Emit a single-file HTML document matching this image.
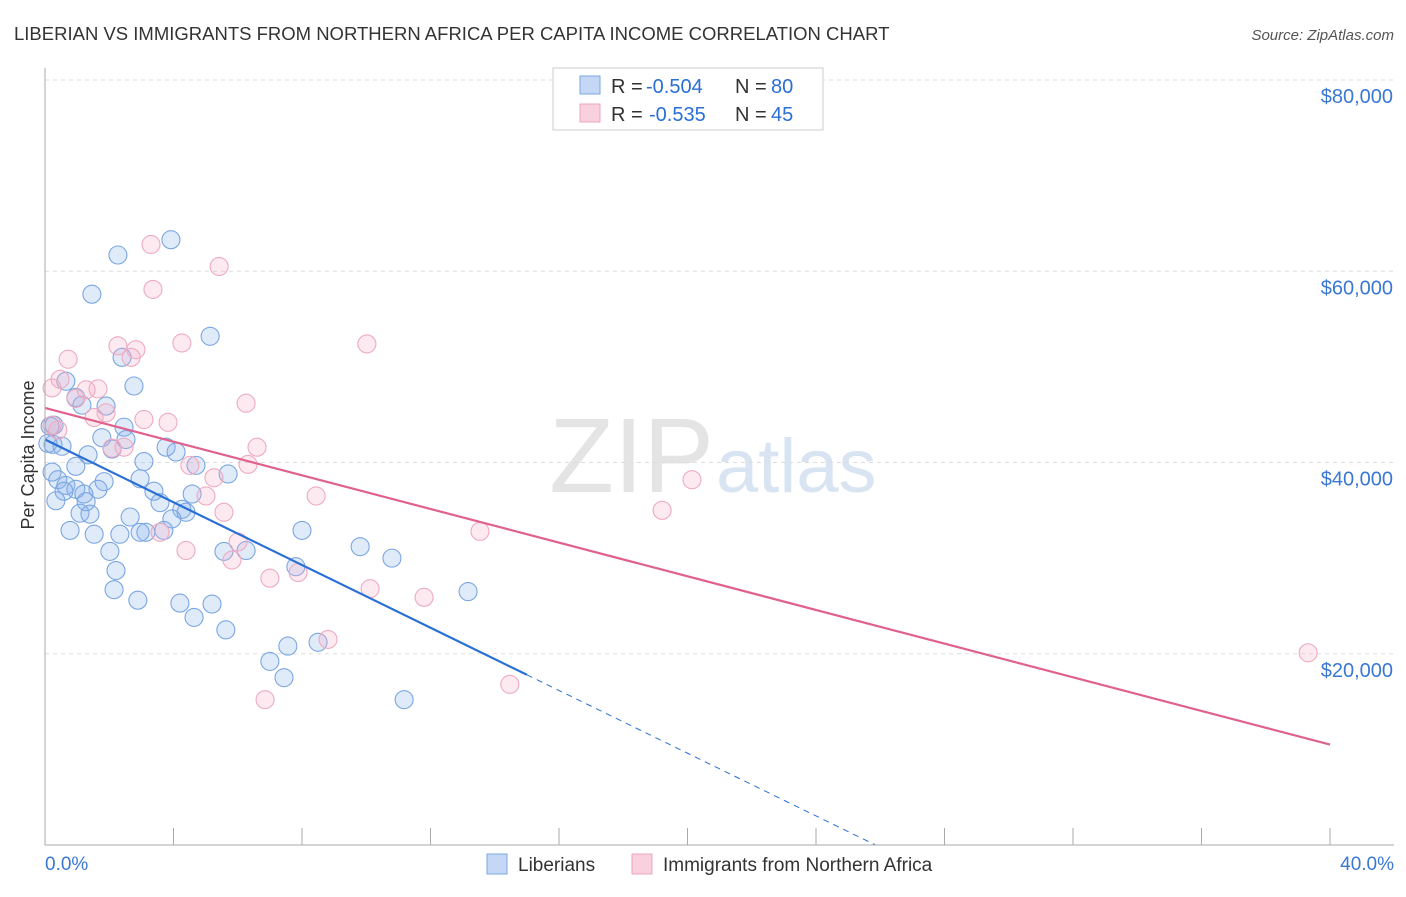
<!DOCTYPE html>
<html><head><meta charset="utf-8"><style>
body{margin:0;background:#fff;font-family:"Liberation Sans",sans-serif}
svg text{font-family:"Liberation Sans",sans-serif}
</style></head><body>
<svg id="c" width="1406" height="892">
<text x="14" y="40" font-size="18.5" fill="#333">LIBERIAN VS IMMIGRANTS FROM NORTHERN AFRICA PER CAPITA INCOME CORRELATION CHART</text>
<text x="1394" y="40" font-size="15" fill="#555" font-style="italic" text-anchor="end">Source: ZipAtlas.com</text>
<text x="714" y="492" font-size="106" fill="#e4e4e4" text-anchor="end" font-family="Liberation Serif">ZIP</text>
<text x="716" y="492" font-size="76" fill="#d9e4f3">atlas</text>
<text transform="translate(34,455) rotate(-90)" font-size="18" fill="#333" text-anchor="middle">Per Capita Income</text>
<g id="grid"></g><g id="pts"></g><g id="lines"></g>
<line x1="45" y1="68" x2="45" y2="845" stroke="#aaa"/>
<line x1="45" y1="845" x2="1394" y2="845" stroke="#aaa"/>
<text x="45" y="870" font-size="19" fill="#3a78d4">0.0%</text>
<text x="1394" y="870" font-size="19" fill="#3a78d4" text-anchor="end">40.0%</text>
<g>
<rect x="553" y="68" width="270" height="62" fill="#fff" stroke="#ccc"/>
<rect x="580" y="76" width="20" height="18" fill="#c4d8f5" stroke="#7aa6e2"/>
<rect x="580" y="104" width="20" height="18" fill="#f9d0dd" stroke="#eaa6bc"/>
<text x="611" y="93" font-size="20" fill="#333">R =</text>
<text x="646" y="93" font-size="20" fill="#2a6fd6">-0.504</text>
<text x="735" y="93" font-size="20" fill="#333">N =</text>
<text x="771" y="93" font-size="20" fill="#2a6fd6">80</text>
<text x="611" y="121" font-size="20" fill="#333">R =</text>
<text x="649" y="121" font-size="20" fill="#2a6fd6">-0.535</text>
<text x="735" y="121" font-size="20" fill="#333">N =</text>
<text x="771" y="121" font-size="20" fill="#2a6fd6">45</text>
</g>
<g>
<rect x="487" y="854" width="20" height="20" fill="#c4d8f5" stroke="#7aa6e2"/>
<text x="518" y="871" font-size="19" fill="#333">Liberians</text>
<rect x="632" y="854" width="20" height="20" fill="#f9d0dd" stroke="#eaa6bc"/>
<text x="663" y="871" font-size="19" fill="#333">Immigrants from Northern Africa</text>
</g>
</svg>
<script>
const yTicks=[20000,40000,60000,80000];
const yTickLabels=["$20,000","$40,000","$60,000","$80,000"];
const xTicks=[0,4,8,12,16,20,24,28,32,36,40];
const blueX=[3.92,2.27,1.46,5.14,2.40,2.77,0.65,0.96,1.90,1.15,0.28,2.46,1.77,2.52,2.09,0.25,0.53,3.77,4.08,1.34,3.08,4.70,5.70,0.96,0.22,0.40,1.84,0.65,0.96,1.65,2.96,3.39,4.58,0.59,1.21,1.28,3.58,4.26,4.39,1.09,1.40,2.65,3.95,8.00,0.78,1.53,2.33,3.14,3.70,2.96,2.02,5.57,6.26,9.81,10.80,7.81,2.21,2.15,2.89,4.20,5.20,4.64,5.63,13.17,8.50,7.56,7.00,7.44,11.18,0.34,0.09,0.16];
const blueY=[63.3,61.7,57.6,53.2,51.0,48.0,48.5,46.8,45.9,46.0,43.9,43.7,42.6,42.4,41.4,41.9,41.7,41.6,41.1,40.8,40.1,39.7,38.8,39.6,39.0,38.2,38.0,37.6,37.2,37.2,38.3,37.0,36.7,37.0,36.7,35.9,35.8,35.1,34.8,34.7,34.6,34.3,34.1,32.9,32.9,32.5,32.5,32.7,32.9,32.7,30.7,30.7,30.8,31.2,30.0,29.1,28.7,26.7,25.6,25.3,25.2,23.8,22.5,26.5,21.2,20.8,19.2,17.5,15.2,36.0,42.0,43.8];
const pinkX=[3.30,5.42,3.36,4.26,10.02,2.27,2.83,2.68,0.72,0.47,0.22,1.65,1.28,0.96,6.26,1.53,3.08,3.83,1.90,6.60,2.09,2.46,4.51,6.32,5.26,20.14,8.44,5.01,5.57,19.21,13.54,3.58,6.01,4.39,5.82,7.00,7.88,10.12,11.80,8.81,14.47,6.85,39.32,0.40,0.22];
const pinkY=[62.8,60.5,58.1,52.5,52.4,52.2,51.8,51.0,50.8,48.7,47.8,47.7,47.6,46.7,46.2,44.7,44.5,44.2,45.2,41.6,41.5,41.6,39.7,39.8,38.4,38.2,36.5,36.5,34.8,35.0,32.8,32.7,31.7,30.8,29.8,27.9,28.5,26.8,25.9,21.5,16.8,15.2,20.1,43.4,43.9];
const blueTrend=[42.4,-1.64];
const pinkTrend=[45.7,-0.88];
const NS="http://www.w3.org/2000/svg";
const X=v=>45+(v/40)*1285;
const Y=v=>845-(v/80)*765;
function mk(t,a,p){const e=document.createElementNS(NS,t);for(const k in a)e.setAttribute(k,a[k]);p.appendChild(e);return e;}
const grid=document.getElementById('grid');
yTicks.forEach((t,i)=>{
  const g=mk('line',{x1:45,x2:1394,y1:Y(t/1000),y2:Y(t/1000),stroke:'#ddd','stroke-dasharray':'4,4'},grid);
  
  
  const l=mk('text',{x:1393,y:Y(t/1000)+23,'font-size':20,fill:'#3a78d4','text-anchor':'end'},grid);
  l.textContent=yTickLabels[i];
  
  
});
xTicks.forEach(t=>{
  const k=mk('line',{x1:X(t),x2:X(t),y1:828,y2:845,stroke:'#aaa'},grid);
  
  
});
const pts=document.getElementById('pts');
blueX.forEach((x,i)=>{
  const c=mk('circle',{cx:X(x),cy:Y(blueY[i]),r:9,fill:'rgba(130,175,235,0.25)',stroke:'#7aa6e2','stroke-width':1.1},pts);
  
  
});
pinkX.forEach((x,i)=>{
  const c=mk('circle',{cx:X(x),cy:Y(pinkY[i]),r:9,fill:'rgba(245,170,195,0.25)',stroke:'#eeaac0','stroke-width':1.1},pts);
  
  
});
const ln=document.getElementById('lines');
const bEnd=15.0, bZero=-blueTrend[0]/blueTrend[1];
let l1=mk('line',{x1:X(0),y1:Y(blueTrend[0]),x2:X(bEnd),y2:Y(blueTrend[0]+blueTrend[1]*bEnd),stroke:'#2a6fd6','stroke-width':2.2},ln);


let l2=mk('line',{x1:X(bEnd),y1:Y(blueTrend[0]+blueTrend[1]*bEnd),x2:X(bZero),y2:Y(0),stroke:'#2a6fd6','stroke-width':1,'stroke-dasharray':'6,5'},ln);


let l3=mk('line',{x1:X(0),y1:Y(pinkTrend[0]),x2:X(40),y2:Y(pinkTrend[0]+pinkTrend[1]*40),stroke:'#e0608e','stroke-width':2.2},ln);


</script>
</body></html>
